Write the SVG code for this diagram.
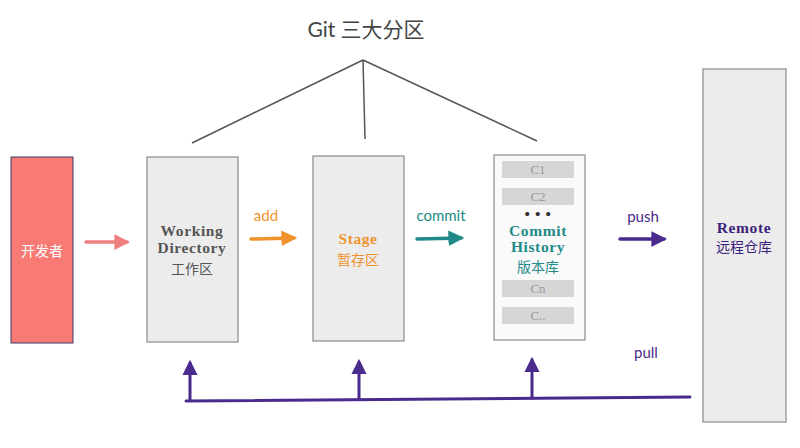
<svg xmlns="http://www.w3.org/2000/svg" width="800" height="448" viewBox="0 0 800 448">
<defs>
<style>
.box{fill:#ececec;stroke:#8a8a8a;stroke-width:1.2}
.cbox{fill:#d6d6d6}
.ser{font-family:"Liberation Serif","Noto Sans CJK SC",serif;font-weight:bold;text-anchor:middle;font-size:15.5px;letter-spacing:0.6px}
.cjk{font-family:"Noto Sans CJK SC",sans-serif;text-anchor:middle;font-size:14px}
.lbl{font-family:"Lato","Noto Sans",sans-serif;font-size:15px;text-anchor:middle}
.cl{font-family:"Liberation Serif",serif;font-size:13px;fill:#999;text-anchor:middle}
</style>
<marker id="hPink" viewBox="0 0 10 10" refX="8" refY="5" markerWidth="4.5" markerHeight="4.5" orient="auto"><path d="M0,0 L10,5 L0,10 z" fill="#f08080"/></marker>
<marker id="hOrange" viewBox="0 0 10 10" refX="8" refY="5" markerWidth="4.5" markerHeight="4.5" orient="auto"><path d="M0,0 L10,5 L0,10 z" fill="#f0922c"/></marker>
<marker id="hTeal" viewBox="0 0 10 10" refX="8" refY="5" markerWidth="4.5" markerHeight="4.5" orient="auto"><path d="M0,0 L10,5 L0,10 z" fill="#1f8a88"/></marker>
<marker id="hPurple" viewBox="0 0 10 10" refX="8" refY="5" markerWidth="4.5" markerHeight="4.5" orient="auto"><path d="M0,0 L10,5 L0,10 z" fill="#4a2a8c"/></marker>
<marker id="hPull" viewBox="0 0 10 10" refX="8" refY="5" markerWidth="5.2" markerHeight="5.2" orient="auto"><path d="M0,0 L10,5 L0,10 z" fill="#4a2a8c"/></marker>
</defs>
<rect width="800" height="448" fill="#ffffff"/>
<g id="title">
<text x="366" y="37" font-family="Lato,'Noto Sans CJK SC',sans-serif" font-size="21" fill="#444" text-anchor="middle">Git 三大分区</text>
<path d="M363,60 L192,143 M363,60 L365,139 M363,60 L537,141" stroke="#555" stroke-width="1.5" fill="none"/>
</g>
<g id="developer">
<rect x="11" y="157" width="62" height="186" fill="#f77b74" stroke="#3a3a6a" stroke-width="1"/>
<text x="42" y="256" class="cjk" fill="#ffffff" font-size="15">开发者</text>
</g>
<g id="working">
<rect x="147" y="157" width="91" height="185" class="box"/>
<text x="192" y="236" class="ser" fill="#555">Working</text>
<text x="192" y="253" class="ser" fill="#555">Directory</text>
<text x="192" y="274" class="cjk" fill="#555" font-size="15">工作区</text>
</g>
<g id="stage">
<rect x="313" y="156" width="91" height="185" class="box"/>
<text x="358" y="244" class="ser" fill="#f0922c">Stage</text>
<text x="358" y="265" class="cjk" fill="#f0922c" font-size="15">暂存区</text>
</g>
<g id="history">
<rect x="494" y="155" width="91" height="185" fill="#fafafa" stroke="#8a8a8a" stroke-width="1.2"/>
<rect x="502" y="161" width="72" height="17" class="cbox"/>
<text x="538" y="174" class="cl">C1</text>
<rect x="502" y="188" width="72" height="17" class="cbox"/>
<text x="538" y="201" class="cl">C2</text>
<text x="538" y="219" class="ser" fill="#333" font-size="12">• • •</text>
<text x="538" y="236" class="ser" fill="#1f8a88">Commit</text>
<text x="538" y="252" class="ser" fill="#1f8a88">History</text>
<text x="538" y="272" class="cjk" fill="#1f8a88" font-size="15">版本库</text>
<rect x="502" y="280" width="72" height="17" class="cbox"/>
<text x="538" y="293" class="cl">Cn</text>
<rect x="502" y="307" width="72" height="17" class="cbox"/>
<text x="538" y="320" class="cl">C..</text>
</g>
<g id="remote">
<rect x="703" y="69" width="83" height="353" class="box"/>
<text x="744" y="233" class="ser" fill="#3d1f7a" font-size="14">Remote</text>
<text x="744" y="252" class="cjk" fill="#3d1f7a" font-size="15">远程仓库</text>
</g>
<g id="connectors" fill="none" stroke-linecap="round">
<path d="M86,242 L127,242" stroke="#f08080" stroke-width="3.5" marker-end="url(#hPink)"/>
<path d="M251,239 L294,238" stroke="#f0922c" stroke-width="3.5" marker-end="url(#hOrange)"/>
<text x="266" y="221" class="lbl" fill="#f0922c" stroke="none">add</text>
<path d="M417,239 L461,238" stroke="#1f8a88" stroke-width="3.5" marker-end="url(#hTeal)"/>
<text x="441" y="221" class="lbl" fill="#1f8a88" stroke="none">commit</text>
<path d="M620,239 L664,239" stroke="#4a2a8c" stroke-width="3.5" marker-end="url(#hPurple)"/>
<text x="643" y="222" class="lbl" fill="#4a2a8c" stroke="none">push</text>
<text x="646" y="358" class="lbl" fill="#4a2a8c" stroke="none">pull</text>
<path d="M186,401 L690,397" stroke="#4a2a8c" stroke-width="3"/>
<path d="M190,400 L190,363" stroke="#4a2a8c" stroke-width="3" marker-end="url(#hPull)"/>
<path d="M359,399 L359,362" stroke="#4a2a8c" stroke-width="3" marker-end="url(#hPull)"/>
<path d="M532,398 L532,360" stroke="#4a2a8c" stroke-width="3" marker-end="url(#hPull)"/>
</g>
</svg>
